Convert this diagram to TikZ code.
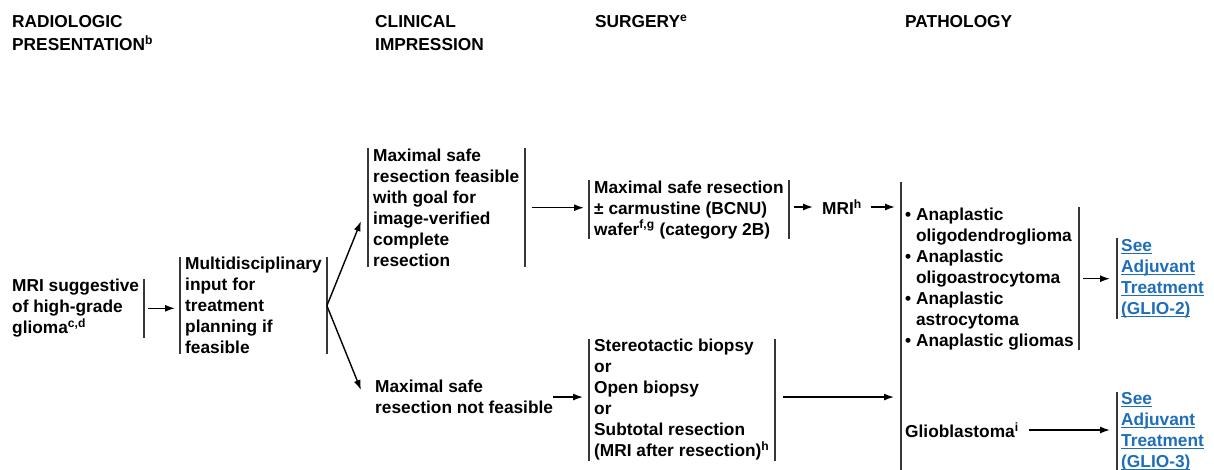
\documentclass[tikz,border=0pt]{standalone}
\usepackage{fontspec}
\setmainfont{Liberation Sans}
\usetikzlibrary{arrows.meta}
\definecolor{linkblue}{RGB}{30,110,185}
\definecolor{bargray}{RGB}{55,55,55}
\newsavebox{\lkbox}
\newcommand{\lk}[1]{\sbox{\lkbox}{#1}\rlap{\rule[-2.4pt]{\wd\lkbox}{1.1pt}}\usebox{\lkbox}}
\begin{document}
\begin{tikzpicture}[x=1pt,y=-1pt,
  txt/.style={font=\bfseries\fontsize{17.3}{21}\selectfont, align=left, inner xsep=5pt, inner ysep=0pt, anchor=north west, text=black},
  hdr/.style={font=\bfseries\fontsize{17.3}{22.5}\selectfont, align=left, inner sep=0pt, anchor=north west},
  bar/.style={draw=bargray, line width=1.9pt},
  arr/.style={-{Latex[length=10pt,width=7pt]}, line width=1.4pt},
  lnk/.style={txt, text=linkblue, inner xsep=4pt},
]
\useasboundingbox (0,0) rectangle (1214,470);
% headers
\node[hdr] (h1) at (12,15.5) {RADIOLOGIC\\PRESENTATION\textsuperscript{b}};
\node[hdr] (h2) at (375,15.5) {CLINICAL\\IMPRESSION};
\node[hdr, anchor=base west] (h3) at (595,28) {SURGERY\textsuperscript{e}};
\node[hdr, anchor=base west] (h4) at (905,28) {PATHOLOGY};
% nodes
\node[txt, minimum height=53pt] (mri) at (7,279) {MRI suggestive\\of high-grade\\glioma\textsuperscript{c,d}};
\node[txt, minimum height=97pt] (multi) at (180,257) {Multidisciplinary\\input for\\treatment\\planning if\\feasible};
\node[txt, minimum height=119pt] (clinA) at (368,148) {Maximal safe\\resection feasible\\with goal for\\image-verified\\complete\\resection};
\node[txt] (clinB) at (370,380) {Maximal safe\\resection not feasible};
\node[txt, minimum height=59pt] (surgA) at (589,180) {Maximal safe resection\\± carmustine (BCNU)\\wafer\textsuperscript{f,g} (category 2B)};
\node[txt, anchor=west] (mrih) at (817,207) {MRI\textsuperscript{h}};
\node[txt, minimum height=119pt] (surgB) at (589,339) {Stereotactic biopsy\\or\\Open biopsy\\or\\Subtotal resection\\(MRI after resection)\textsuperscript{h}};
\node[txt, minimum height=143pt] (path) at (900,207) {• Anaplastic\\\phantom{• }oligodendroglioma\\• Anaplastic\\\phantom{• }oligoastrocytoma\\• Anaplastic\\\phantom{• }astrocytoma\\• Anaplastic gliomas};
\node[txt, anchor=west] (glio) at (900,430) {Glioblastoma\textsuperscript{i}};
\node[lnk, minimum height=81pt] (linkA) at (1117,238) {\lk{See}\\\lk{Adjuvant}\\\lk{Treatment}\\\lk{(GLIO-2)}};
\node[lnk] (linkB) at (1117,392) {\lk{See}\\\lk{Adjuvant}\\\lk{Treatment}\\\lk{(GLIO-3)}};
\coordinate (pbarT) at (901,182);
\coordinate (pbarB) at (901,471);
% bars
\draw[bar] (mri.north east) -- (mri.south east);
\foreach \n in {multi,clinA,surgA,surgB}{
  \draw[bar] (\n.north west) -- (\n.south west);
  \draw[bar] (\n.north east) -- (\n.south east);
}
\draw[bar] (path.north east) -- (path.south east);
\draw[bar] (linkA.north west) -- (linkA.south west);
\draw[bar] (linkB.north west) -- (linkB.south west |- pbarB);
\draw[bar] (pbarT) -- (pbarB);
% arrows
\draw[arr] ([xshift=4pt]mri.east) -- ([xshift=-5pt]multi.west |- mri.east);
\draw[arr] (multi.east) -- ([xshift=-7pt,yshift=-13.5pt]clinA.west);
\draw[arr] (multi.east) -- ([xshift=-9pt,yshift=7pt]clinB.west);
\draw[arr] ([xshift=7pt]clinA.east) -- ([xshift=-5pt]surgA.west |- clinA.east);
\draw[arr] ([xshift=-5pt]clinB.east) -- ([xshift=-6pt]surgB.west |- clinB.east);
\draw[arr] ([xshift=5pt]surgA.east |- mrih.west) -- ([xshift=-4pt]mrih.west);
\draw[arr] ([xshift=4pt]mrih.east) -- ([xshift=-6pt]pbarT |- mrih.east);
\draw[arr] ([xshift=8pt]surgB.east |- clinB.east) -- ([xshift=-7pt]pbarT |- clinB.east);
\draw[arr] ([xshift=4pt]path.east) -- ([xshift=-7pt]linkA.west);
\draw[arr] ([xshift=5pt]glio.east) -- ([xshift=-7pt]linkB.west |- glio.east);
\end{tikzpicture}
\end{document}
